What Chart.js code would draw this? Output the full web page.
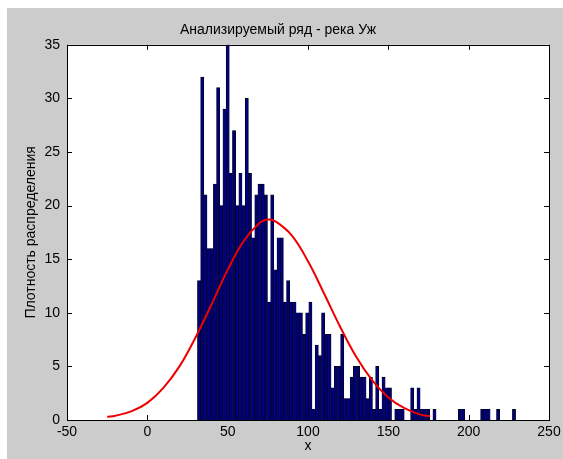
<!DOCTYPE html>
<html>
<head>
<meta charset="utf-8">
<script src="https://cdn.jsdelivr.net/npm/chart.js@4/dist/chart.umd.min.js"></script>
<style>
  html, body { margin: 0; padding: 0; background: #ffffff; }
  #wrap { position: absolute; left: 7px; top: 8px; width: 556px; height: 451px; background: #cccccc; }
</style>
</head>
<body>
<div id="wrap"><canvas id="grafico" width="556" height="451"></canvas></div>
<script>
// Histograma: 100 intervalos
const binStart = 32.2;
const binWidth = 1.98;
const counts = [
    13, 32, 21, 16, 16, 22, 31, 20, 29, 35,
    23, 27, 20, 23, 20, 30, 23, 17, 21, 22,
    22, 21, 11, 21, 14, 17, 17, 11, 13, 11,
    11, 10, 10, 8, 10, 11, 1, 7, 6, 10,
    8, 8, 3, 5, 5, 8, 2, 2, 4, 5,
    5, 4, 4, 2, 4, 1, 5, 1, 4, 3,
    3, 0, 1, 1, 1, 0, 0, 3, 1, 3,
    1, 1, 1, 0, 1, 0, 0, 0, 0, 0,
    0, 0, 1, 1, 0, 0, 0, 0, 0, 1,
    1, 1, 0, 0, 1, 0, 0, 0, 0, 1
];

// Curva normal ajustada (le챠da del gr찼fico)
const curveX = [-25, -20, -10, 0, 10, 20, 30, 40, 50, 60, 70, 75, 80, 90, 100, 110, 120, 130, 140, 150, 160, 170, 176];
const curveY = [0.3, 0.4, 0.8, 1.6, 3.0, 5.0, 7.7, 10.8, 14.0, 16.7, 18.4, 18.7, 18.5, 17.2, 14.8, 11.8, 8.7, 5.9, 3.7, 2.1, 1.1, 0.5, 0.35];

const xTicks = [-50, 0, 50, 100, 150, 200, 250];
const yTicks = [0, 5, 10, 15, 20, 25, 30, 35];

const titulo = 'Анализируемый ряд - река Уж';
const ejeX = 'x';
const ejeY = 'Плотность распределения';

const barData = counts.map((c, i) => ({ x: binStart + i * binWidth, y: c }));
const lineData = curveX.map((x, i) => ({ x, y: curveY[i] }));

// Marco y marcas hacia adentro, estilo MATLAB
const marcoPlugin = {
    id: 'marco',
    beforeDatasetsDraw(chart) {
        const { ctx, chartArea: a, scales } = chart;
        ctx.save();
        ctx.fillStyle = '#ffffff';
        ctx.fillRect(a.left, a.top, a.right - a.left, a.bottom - a.top);
        ctx.strokeStyle = '#000000';
        ctx.lineWidth = 1;
        ctx.beginPath();
        xTicks.forEach(t => {
            const px = Math.round(scales.x.getPixelForValue(t)) + 0.5;
            ctx.moveTo(px, a.bottom); ctx.lineTo(px, a.bottom - 5);
            ctx.moveTo(px, a.top); ctx.lineTo(px, a.top + 5);
        });
        yTicks.forEach(t => {
            const py = Math.round(scales.y.getPixelForValue(t)) + 0.5;
            ctx.moveTo(a.left, py); ctx.lineTo(a.left + 5, py);
            ctx.moveTo(a.right, py); ctx.lineTo(a.right - 5, py);
        });
        ctx.stroke();
        ctx.strokeRect(Math.round(a.left) + 0.5, Math.round(a.top) + 0.5, Math.round(a.right - a.left), Math.round(a.bottom - a.top));
        ctx.restore();
    }
};

const fuente = 'Liberation Sans, Arial, sans-serif';

new Chart(document.getElementById('grafico'), {
    type: 'bar',
    data: {
        datasets: [
            {
                type: 'line',
                data: lineData,
                borderColor: '#ee0000',
                borderWidth: 2,
                pointRadius: 0,
                tension: 0.4,
                fill: false,
                order: 0
            },
            {
                data: barData,
                backgroundColor: '#00007a',
                borderColor: '#000000',
                borderWidth: 0.6,
                barPercentage: 1,
                categoryPercentage: 1,
                grouped: false,
                order: 1
            }
        ]
    },
    options: {
        responsive: false,
        animation: false,
        layout: { padding: { left: 0, right: 14, top: 0, bottom: 0 } },
        plugins: {
            legend: { display: false },
            tooltip: { enabled: false },
            title: {
                display: true,
                text: titulo,
                color: '#000000',
                font: { family: fuente, size: 14, weight: 'normal' },
                padding: { top: 14, bottom: 6 }
            }
        },
        scales: {
            x: {
                type: 'linear',
                min: -50,
                max: 250,
                offset: false,
                grid: { display: false, drawTicks: false },
                border: { display: false },
                afterBuildTicks: s => { s.ticks = xTicks.map(v => ({ value: v })); },
                ticks: { color: '#000000', padding: 4, maxRotation: 0, font: { family: fuente, size: 14 } },
                title: { display: true, text: ejeX, color: '#000000', padding: { top: 0, bottom: 4 }, font: { family: fuente, size: 14 } },
                afterFit: s => { s.height = 39; s.paddingLeft = 0; s.paddingRight = 0; }
            },
            y: {
                min: 0,
                max: 35,
                grid: { display: false, drawTicks: false },
                border: { display: false },
                afterBuildTicks: s => { s.ticks = yTicks.map(v => ({ value: v })); },
                ticks: { color: '#000000', padding: 7, font: { family: fuente, size: 14 } },
                title: { display: true, text: ejeY, color: '#000000', padding: { top: 16, bottom: 0 }, font: { family: fuente, size: 14 } },
                afterFit: s => { s.width = 60; s.paddingTop = 0; s.paddingBottom = 0; }
            }
        }
    },
    plugins: [marcoPlugin]
});
</script>
</body>
</html>
